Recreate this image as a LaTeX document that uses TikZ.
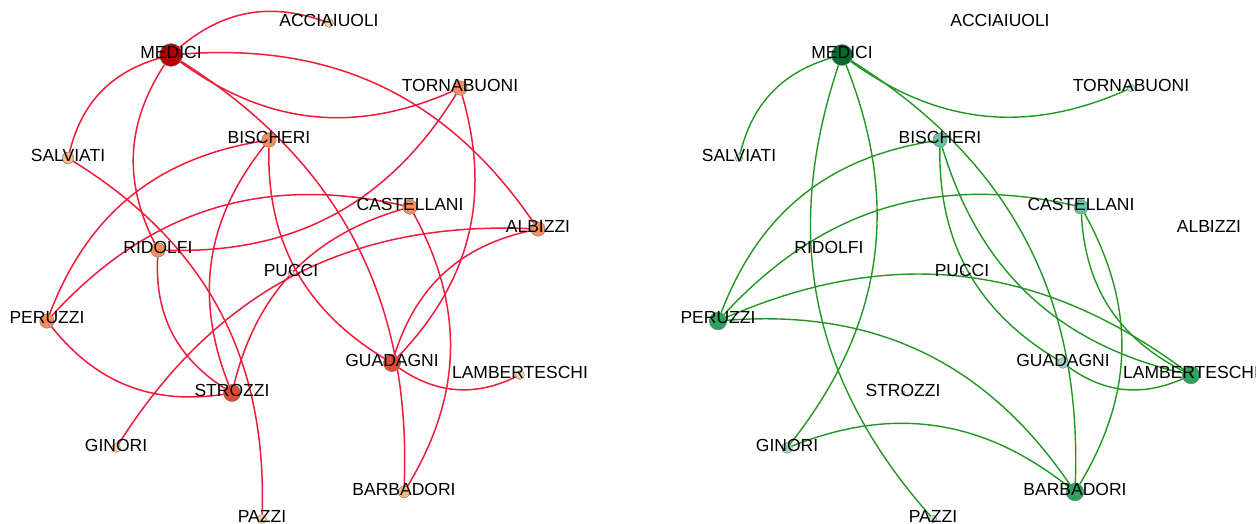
\documentclass[tikz,border=0pt]{standalone}
\usepackage{fontspec}
\setmainfont{Liberation Sans}
\usetikzlibrary{backgrounds}

% line colours
\definecolor{marriageline}{RGB}{238,28,58}
\definecolor{businessline}{RGB}{34,150,34}
% node colours by degree (marriage: OrRd, business: BuGn)
\definecolor{or0}{HTML}{FEF0D9}
\definecolor{or1}{HTML}{FDD49E}
\definecolor{or2}{HTML}{FDBB84}
\definecolor{or3}{HTML}{FC8D59}
\definecolor{or4}{HTML}{E34A33}
\definecolor{or5}{HTML}{C81D1D}
\definecolor{or6}{HTML}{B30000}
\definecolor{bg0}{HTML}{EDF8FB}
\definecolor{bg1}{HTML}{CCECE6}
\definecolor{bg2}{HTML}{99D8C9}
\definecolor{bg3}{HTML}{66C2A4}
\definecolor{bg4}{HTML}{2CA25F}
\definecolor{bg5}{HTML}{006D2C}

\tikzset{
  family/.style={circle, draw=black!55, line width=0.4pt, inner sep=0pt},
  famlabel/.style={inner sep=0pt, text=black, font=\fontsize{17.5pt}{20pt}\selectfont},
  marriage/.style={marriageline, line width=1.5pt},
  business/.style={businessline, line width=1.4pt}
}

% name / x / y / degree (marriage) / degree (business)
\def\families{
  ACCIAIUOLI/329/23/1/0, MEDICI/171/55/6/5, TORNABUONI/460/88/3/1,
  BISCHERI/269/140/3/3, SALVIATI/68/158/2/1, CASTELLANI/410/207/3/3,
  ALBIZZI/538/229/3/0, RIDOLFI/158/250/3/0, PUCCI/291/273/0/0,
  PERUZZI/47/321/3/4, GUADAGNI/392/363/4/2, LAMBERTESCHI/520/375/1/4,
  STROZZI/232/393/4/0, GINORI/116/448/1/2, BARBADORI/404/492/2/4,
  PAZZI/262/519/1/1}

\begin{document}
\begin{tikzpicture}[x=1pt, y=-1pt]
  \useasboundingbox (0,0) rectangle (1256,524);

  % --- MARRIAGE NETWORK (LEFT) ---
  \foreach \n/\x/\y/\dm/\db in \families {
    \node[family, fill=or\dm, minimum size={6pt+2.8pt*\dm}] (m-\n) at (\x,\y) {};
  }
  \begin{scope}[on background layer]
    \foreach \a/\b in {ACCIAIUOLI/MEDICI, ALBIZZI/GINORI, ALBIZZI/GUADAGNI,
      ALBIZZI/MEDICI, BARBADORI/CASTELLANI, BARBADORI/MEDICI,
      BISCHERI/GUADAGNI, BISCHERI/PERUZZI, BISCHERI/STROZZI,
      CASTELLANI/PERUZZI, CASTELLANI/STROZZI, GUADAGNI/LAMBERTESCHI,
      GUADAGNI/TORNABUONI, MEDICI/RIDOLFI, MEDICI/SALVIATI,
      MEDICI/TORNABUONI, PAZZI/SALVIATI, PERUZZI/STROZZI,
      RIDOLFI/STROZZI, RIDOLFI/TORNABUONI} {
      \draw[marriage] (m-\a) to[bend right=30] (m-\b);
    }
  \end{scope}
  \foreach \n/\x/\y/\dm/\db in \families {
    \node[famlabel] (ml-\n) at (\x,\y-3) {\n};
  }

  % --- BUSINESS NETWORK (RIGHT) ---
  \begin{scope}[xshift=671pt]
    \foreach \n/\x/\y/\dm/\db in \families {
      \node[family, fill=bg\db, minimum size={4pt+3.4pt*\db}] (b-\n) at (\x,\y) {};
    }
    \begin{scope}[on background layer]
      \foreach \a/\b in {BARBADORI/CASTELLANI, BARBADORI/GINORI,
        BARBADORI/MEDICI, BARBADORI/PERUZZI, BISCHERI/GUADAGNI,
        BISCHERI/LAMBERTESCHI, BISCHERI/PERUZZI, CASTELLANI/LAMBERTESCHI,
        CASTELLANI/PERUZZI, GINORI/MEDICI, GUADAGNI/LAMBERTESCHI,
        LAMBERTESCHI/PERUZZI, MEDICI/PAZZI, MEDICI/SALVIATI,
        MEDICI/TORNABUONI} {
        \draw[business] (b-\a) to[bend right=30] (b-\b);
      }
    \end{scope}
    \foreach \n/\x/\y/\dm/\db in \families {
      \node[famlabel] (bl-\n) at (\x,\y-3) {\n};
    }
  \end{scope}

\end{tikzpicture}
\end{document}
